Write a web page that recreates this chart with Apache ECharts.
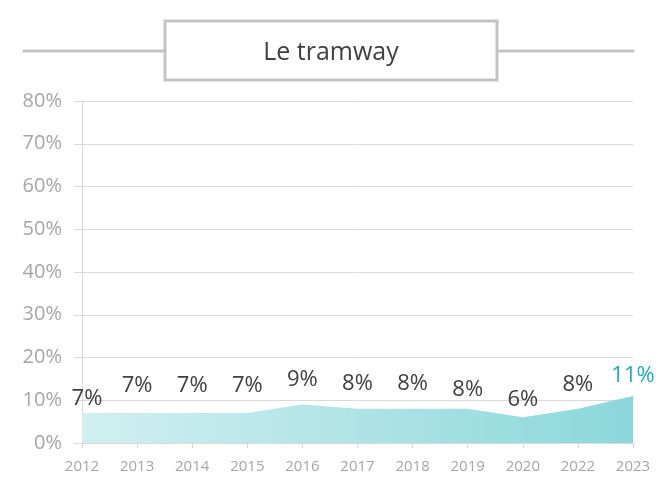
<!DOCTYPE html>
<html>
<head>
<meta charset="utf-8">
<script src="https://cdn.jsdelivr.net/npm/echarts@6/dist/echarts.min.js"></script>
<style>
  html, body { margin: 0; padding: 0; background: #fff; }
  #chart { width: 662px; height: 477px; }
</style>
</head>
<body>
<div id="chart"></div>
<script>
var years = ['2012', '2013', '2014', '2015', '2016', '2017', '2018', '2019', '2020', '2022', '2023'];
var values = [7, 7, 7, 7, 9, 8, 8, 8, 6, 8, 11];
var yTicks = [0, 10, 20, 30, 40, 50, 60, 70, 80];

// décalage vertical des étiquettes (comme dans le graphique d'origine)
var labelLift = [15, 28, 28, 28, 25, 26, 26, 20, 18, 25, 21];

var chart = echarts.init(document.getElementById('chart'));

var seriesData = values.map(function (v, i) {
  var last = i === values.length - 1;
  return {
    value: v,
    label: {
      distance: labelLift[i] - 12,
      offset: i === 0 ? [5, 0] : [0, 0],
      color: last ? '#1fb0b8' : '#404040'
    }
  };
});

chart.setOption({
  animation: false,
  graphic: [
    { type: 'line', shape: { x1: 24, y1: 51, x2: 165, y2: 51 }, style: { stroke: '#c3c3c3', lineWidth: 3, lineCap: 'round' } },
    { type: 'line', shape: { x1: 497, y1: 51, x2: 633, y2: 51 }, style: { stroke: '#c3c3c3', lineWidth: 3, lineCap: 'round' } },
    { type: 'rect', shape: { x: 165, y: 21, width: 332, height: 59 }, style: { fill: '#fff', stroke: '#c3c3c3', lineWidth: 3 } },
    { type: 'text', x: 331, y: 53, style: { text: 'Le tramway', fill: '#404040', font: '25px "Open Sans", sans-serif', align: 'center', verticalAlign: 'middle' } }
  ],
  grid: { left: 82, right: 29, top: 101, bottom: 34 },
  xAxis: {
    type: 'category',
    data: years,
    boundaryGap: false,
    axisLine: { lineStyle: { color: '#d9d9d9', width: 1 } },
    axisTick: { show: true, length: 5, lineStyle: { color: '#d9d9d9' } },
    axisLabel: { color: '#a6a6a6', fontSize: 15, fontFamily: 'Open Sans', margin: 16 }
  },
  yAxis: {
    type: 'value',
    min: yTicks[0],
    max: yTicks[yTicks.length - 1],
    interval: 10,
    axisLine: { show: true, lineStyle: { color: '#d9d9d9' } },
    axisTick: { show: true, length: 8, lineStyle: { color: '#d9d9d9' } },
    splitLine: { lineStyle: { color: '#d9d9d9' } },
    axisLabel: { color: '#a6a6a6', fontSize: 20, fontFamily: 'Open Sans', margin: 20, formatter: '{value}%' }
  },
  series: [{
    type: 'line',
    data: seriesData,
    symbol: 'circle',
    symbolSize: 1,
    showSymbol: true,
    itemStyle: { color: 'rgba(0,0,0,0)' },
    lineStyle: { width: 0 },
    areaStyle: {
      opacity: 1,
      color: new echarts.graphic.LinearGradient(0, 0, 1, 0, [
        { offset: 0, color: '#d2eff1' },
        { offset: 1, color: '#8bd7db' }
      ])
    },
    label: {
      show: true,
      position: 'top',
      fontSize: 22,
      fontFamily: 'Open Sans',
      formatter: '{c}%'
    }
  }]
});
</script>
</body>
</html>
